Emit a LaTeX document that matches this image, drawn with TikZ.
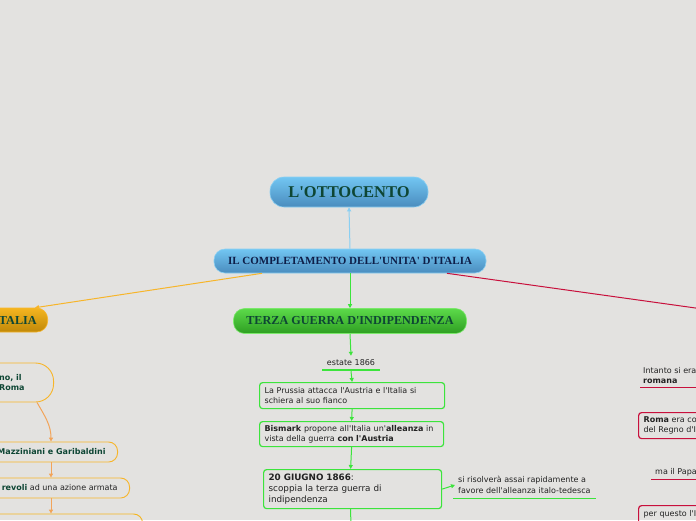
\documentclass[tikz,border=0pt]{standalone}
\usepackage{fontspec}
\setmainfont{Liberation Serif}
\setsansfont{DejaVu Sans}
\usetikzlibrary{positioning,arrows.meta}

\definecolor{bgc}{HTML}{E3E2E0}
\definecolor{bluetop}{HTML}{72C6F2}
\definecolor{bluebot}{HTML}{4A8CBE}
\definecolor{blueedge}{HTML}{8ACFF2}
\definecolor{greentop}{HTML}{5CDA4A}
\definecolor{greenbot}{HTML}{2E9E22}
\definecolor{greenedge}{HTML}{7BE86B}
\definecolor{orangetop}{HTML}{F4B520}
\definecolor{orangebot}{HTML}{C08808}
\definecolor{darkgreen}{HTML}{0E4634}
\definecolor{navy}{HTML}{0E1E48}
\definecolor{lime}{HTML}{3CE43C}
\definecolor{gold}{HTML}{F7B52A}
\definecolor{peach}{HTML}{F2A45A}
\definecolor{crimson}{HTML}{C8103C}
\definecolor{ink}{HTML}{222222}

\newcommand{\ap}{\textquotesingle}

\tikzset{
  topic/.style={rounded corners=11pt, draw=blueedge, line width=0.6pt,
    top color=bluetop, bottom color=bluebot, inner sep=0pt,
    font=\rmfamily\bfseries, text=darkgreen},
  greentopic/.style={topic, draw=greenedge, top color=greentop, bottom color=greenbot},
  goldtopic/.style={topic, draw=gold, top color=orangetop, bottom color=orangebot},
  greenbox/.style={draw=lime, line width=1.2pt, rounded corners=3pt, align=left,
    anchor=north west, inner xsep=5pt, font=\sffamily\fontsize{8}{10.5}\selectfont, text=ink},
  goldbox/.style={draw=gold, line width=0.9pt, rounded corners=9pt, align=left,
    anchor=east, inner xsep=12pt, font=\sffamily\fontsize{8}{10.5}\selectfont, text=ink},
  redbox/.style={draw=crimson, line width=1.2pt, rounded corners=3pt, align=left,
    anchor=north west, inner xsep=5pt, font=\sffamily\fontsize{8}{10.5}\selectfont, text=ink},
  plain/.style={align=left, inner sep=0pt, font=\sffamily\fontsize{8}{10.5}\selectfont, text=ink},
  tip/.style={-{Triangle[length=4pt,width=4pt]}},
}

\begin{document}
\begin{tikzpicture}[x=1pt,y=-1pt]
  \useasboundingbox (0,0) rectangle (696,520);
  \fill[bgc] (0,0) rectangle (696,520);
  \begin{scope}
    \clip (0,0) rectangle (696,520);

    % main topics
    \node[topic, minimum width=158pt, minimum height=30pt, rounded corners=14pt,
      font=\rmfamily\bfseries\fontsize{16.5}{16.5}\selectfont] (root) at (349,192) {L\ap OTTOCENTO};
    \node[topic, minimum width=272pt, minimum height=24pt, text=navy,
      font=\rmfamily\bfseries\fontsize{11}{11}\selectfont] (unita) at (350,261) {IL COMPLETAMENTO DELL\ap UNITA\ap{} D\ap ITALIA};
    \node[greentopic, minimum width=233pt, minimum height=25pt,
      font=\rmfamily\bfseries\fontsize{12.2}{12.2}\selectfont] (terza) at (350,321) {TERZA GUERRA D\ap INDIPENDENZA};
    \node[goldtopic, anchor=east, text width=100pt, inner xsep=11pt, minimum height=24pt, align=right,
      font=\rmfamily\bfseries\fontsize{12.2}{12.2}\selectfont] (italia) at (48,320) {ITALIA};

    \draw[blueedge, line width=1pt, tip] (unita.north) -- (root.south);
    \draw[gold, line width=1pt, tip] ([xshift=-88pt]unita.south) -- ([xshift=-13pt]italia.north east);
    \draw[lime, line width=1pt, tip] (unita.south) -- (terza.north);
    \coordinate (papato) at (760,317);
    \draw[crimson, line width=1pt] ([xshift=97pt]unita.south) -- (papato);

    % guerra del 1866
    \node[plain, minimum width=57pt, align=center] (estate) at (351,363) {estate 1866};
    \draw[lime, line width=1.6pt] ([yshift=-4pt]estate.south west) -- ([yshift=-4pt]estate.south east);
    \draw[lime, line width=1pt, tip] (terza.south) -- ([yshift=4pt]estate.north);

    \node[greenbox, text width=175pt, minimum height=26pt] (prussia) at (259,382)
      {La Prussia attacca l\ap Austria e l\ap Italia si\\schiera al suo fianco};
    \node[greenbox, text width=174pt, minimum height=25pt] (bismark) at (259,421)
      {\textbf{Bismark} propone all\ap Italia un\ap\textbf{alleanza} in\\vista della guerra \textbf{con l\ap Austria}};
    \node[greenbox, text width=168pt, minimum height=39pt,
      font=\sffamily\fontsize{8.8}{11}\selectfont] (giugno) at (263,469)
      {\textbf{20 GIUGNO 1866}:\\scoppia la terza guerra di\\indipendenza};
    \node[plain, anchor=west] (esito) at (458,485)
      {si risolverà assai rapidamente a\\favore dell\ap alleanza italo-tedesca};
    \coordinate (fine) at (351,530);

    \draw[lime, line width=1pt, tip] ([yshift=-5pt]estate.south) -- (prussia.north);
    \draw[lime, line width=1pt, tip] (prussia.south) -- (bismark.north);
    \draw[lime, line width=1pt, tip] (bismark.south) -- ([xshift=-2pt]giugno.north);
    \draw[lime, line width=1pt, tip] (giugno.east) -- ([xshift=-3pt]esito.west);
    \draw[lime, line width=1.4pt] ([xshift=-5pt,yshift=-5pt]esito.south west) -- ([xshift=5pt,yshift=-5pt]esito.south east);
    \draw[lime, line width=1pt] ([xshift=-2pt]giugno.south) -- (fine);

    % ramo arancione
    \node[goldbox, rounded corners=18pt, inner xsep=29pt, minimum height=39pt,
      font=\sffamily\bfseries\fontsize{8}{10.5}\selectfont, text=darkgreen] (vaticano) at (54,382.5)
      {no, il\\Roma};
    \node[goldbox, minimum height=20pt,
      font=\sffamily\bfseries\fontsize{8}{10.5}\selectfont, text=darkgreen] (mazziniani) at (118,452)
      {Mazziniani e Garibaldini};
    \node[goldbox, minimum height=20pt] (azione) at (130,488)
      {\textbf{\color{darkgreen}revoli} ad una azione armata};
    \node[goldbox, minimum height=30pt, minimum width=160pt, draw=orangetop] (prossimo) at (143,529) {};

    \draw[peach, line width=1pt, tip] ([xshift=-17pt]vaticano.south east) to[out=-60, in=90] ([xshift=-67pt]mazziniani.north east);
    \draw[peach, line width=1pt, tip] ([xshift=-67pt]mazziniani.south east) -- ([xshift=-79pt]azione.north east);
    \draw[peach, line width=1pt, tip] ([xshift=-79pt]azione.south east) -- ([xshift=-92pt]prossimo.north east);

    % ramo rosso
    \node[plain, anchor=north west] (intanto) at (643,367) {Intanto si era\\\textbf{romana}};
    \draw[crimson, line width=1pt] ([xshift=-3pt,yshift=-3pt]intanto.south west) -- +(60,0);
    \node[redbox, text width=70pt, minimum height=26pt] (capitale) at (638,412)
      {\textbf{Roma} era co\\del Regno d\ap It};
    \node[plain, anchor=north west] (papa) at (655,468) {ma il Papa};
    \draw[crimson, line width=1pt] ([xshift=-4pt,yshift=-3pt]papa.south west) -- +(50,0);
    \node[redbox, text width=70pt, minimum height=26pt] (questo) at (638,505)
      {per questo l\ap I\\\phantom{x}};
  \end{scope}
\end{tikzpicture}
\end{document}
